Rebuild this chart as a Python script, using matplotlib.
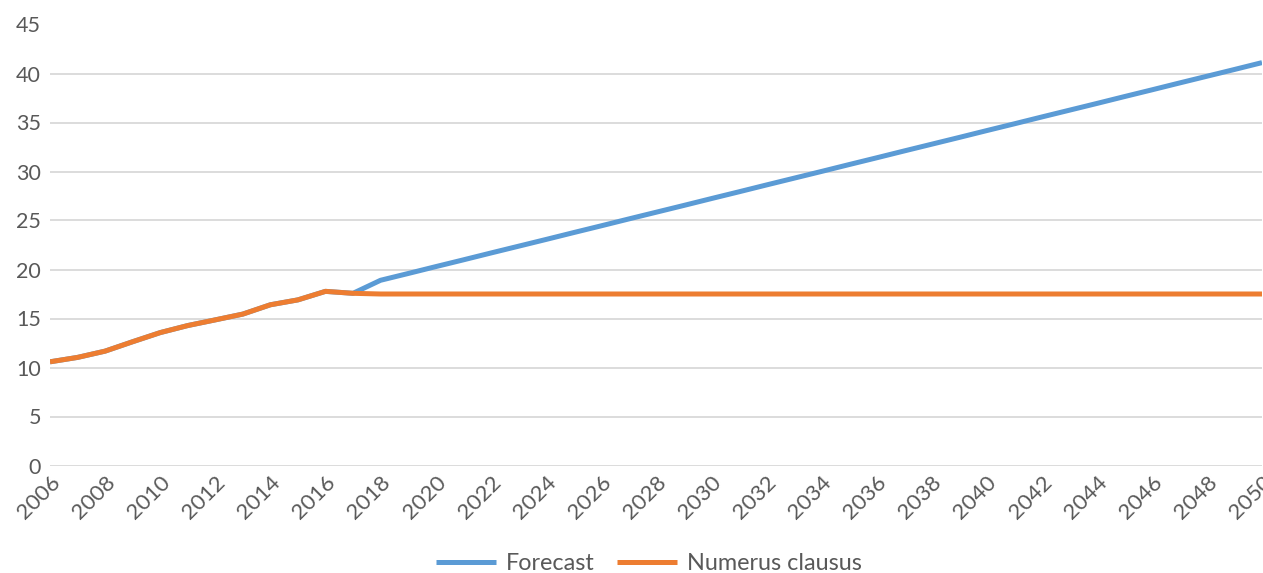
import matplotlib
matplotlib.use("Agg")
import matplotlib.pyplot as plt

years = list(range(2006, 2051))

historical = [10.58, 11.03, 11.67, 12.63, 13.56, 14.28, 14.86, 15.45, 16.4, 16.9, 17.77, 17.57]

forecast_future = [18.9, 19.59, 20.29, 20.98, 21.68, 22.37, 23.06, 23.76, 24.45, 25.15,
                   25.84, 26.53, 27.23, 27.92, 28.62, 29.31, 30.0, 30.7, 31.39, 32.09,
                   32.78, 33.47, 34.17, 34.86, 35.56, 36.25, 36.94, 37.64, 38.33, 39.03,
                   39.72, 40.41, 41.11]

clausus_future = [17.5] * 33

forecast = historical + forecast_future
numerus_clausus = historical + clausus_future

x_ticks = list(range(2006, 2051, 2))
y_ticks = list(range(0, 50, 5))

plt.rcParams['font.family'] = ['Lato', 'DejaVu Sans']

fig = plt.figure(figsize=(12.63, 5.73), dpi=100)
ax = fig.add_axes([50 / 1263, 1 - 465.5 / 573, 1212 / 1263, 441 / 573])

blue = '#5B9BD5'
orange = '#ED7D31'
text_col = '#595959'

ax.plot(years, forecast, color=blue, lw=3.6, label='Forecast', solid_capstyle='butt', zorder=3)
ax.plot(years, numerus_clausus, color=orange, lw=3.6, label='Numerus clausus', solid_capstyle='butt', zorder=4)

ax.set_xlim(2006, 2050)
ax.set_ylim(0, 45)
ax.set_yticks(y_ticks)
ax.set_xticks(x_ticks)
ax.set_xticklabels([str(t) for t in x_ticks], rotation=45, ha='right', rotation_mode='anchor')
ax.tick_params(axis='both', length=0, labelsize=15.5, labelcolor=text_col)
ax.tick_params(axis='x', labelsize=16)
ax.tick_params(axis='y', pad=6.5)
ax.tick_params(axis='x', pad=5)

ax.grid(axis='y', color='#d9d9d9', lw=1.3)
ax.set_axisbelow(True)
for s in ax.spines.values():
    s.set_visible(False)

leg = fig.legend(loc='center', bbox_to_anchor=(0.514, 1 - 564 / 573), ncol=2, frameon=False,
                 fontsize=16.8, handlelength=2.55, columnspacing=0.95, handletextpad=0.45)
for t in leg.get_texts():
    t.set_color(text_col)

fig.savefig('out.png', dpi=100)
